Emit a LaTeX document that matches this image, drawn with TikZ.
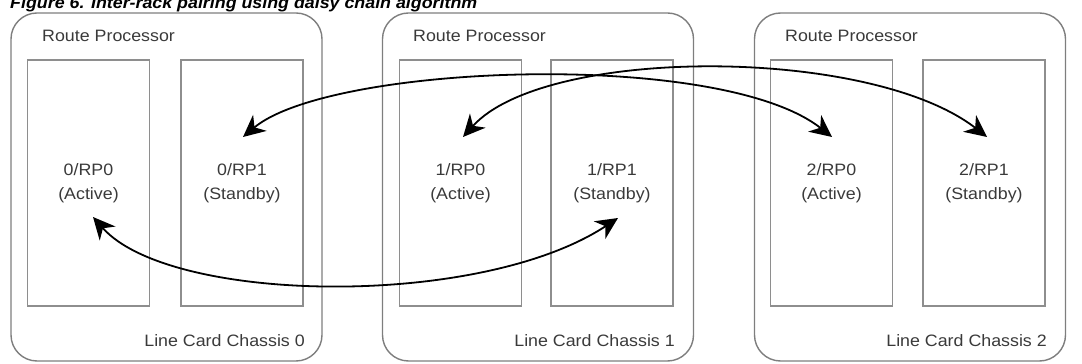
\documentclass[tikz,border=0pt]{standalone}
\usepackage{fontspec}
\setmainfont{Liberation Sans}
\newfontfamily\lbl[FakeStretch=1.08]{Liberation Sans}
\usetikzlibrary{arrows.meta,calc}
\definecolor{txt}{HTML}{3A3A3A}
\definecolor{frame}{HTML}{7E7E7E}
\definecolor{inner}{HTML}{8E8E8E}
\begin{document}
\begin{tikzpicture}[x=1pt,y=1pt,
  chassis/.style={draw=frame, line width=1.4pt, rounded corners=26pt, minimum width=311pt, minimum height=348pt, inner sep=0pt},
  rpbox/.style={draw=inner, line width=1.4pt, minimum width=122pt, minimum height=246pt, inner sep=0pt, align=center, text=txt, font=\lbl\fontsize{16.5}{24}\selectfont},
  lab/.style={text=txt, font=\lbl\fontsize{16.5}{19}\selectfont, inner sep=0pt},
  link/.style={line width=1.8pt, black, {Stealth[length=22pt,width=21pt,inset=7pt]}-{Stealth[length=22pt,width=21pt,inset=7pt]}}
]
\useasboundingbox (0,0) rectangle (1082,364);
\clip (0,0) rectangle (1082,364);

% title (cut off at the top, as in the reference)
\node[anchor=base west, inner sep=0pt, text=black, font=\lbl\fontsize{16.5}{19}\selectfont\bfseries\itshape] (title) at (10,355) {Figure 6. Inter-rack pairing using daisy chain algorithm};

% chassis
\node[chassis] (ch0) at (166.5,177) {};
\node[chassis] (ch1) at (538,177) {};
\node[chassis] (ch2) at (910,177) {};

% route processor labels
\node[lab, anchor=base west] (rpl0) at (42,322) {Route Processor};
\node[lab, anchor=base west] (rpl1) at (413,322) {Route Processor};
\node[lab, anchor=base west] (rpl2) at (785,322) {Route Processor};

% chassis labels
\node[lab, anchor=base east] (lc0) at (305,17) {Line Card Chassis 0};
\node[lab, anchor=base east] (lc1) at (675,17) {Line Card Chassis 1};
\node[lab, anchor=base east] (lc2) at (1047,17) {Line Card Chassis 2};

% RP boxes
\node[rpbox] (rp00) at (88.5,181) {0/RP0\\(Active)};
\node[rpbox] (rp01) at (242,181) {0/RP1\\(Standby)};
\node[rpbox] (rp10) at (460.5,181) {1/RP0\\(Active)};
\node[rpbox] (rp11) at (612,181) {1/RP1\\(Standby)};
\node[rpbox] (rp20) at (831.5,181) {2/RP0\\(Active)};
\node[rpbox] (rp21) at (984,181) {2/RP1\\(Standby)};

% arrow ends
\coordinate (t00) at ($(rp00)+(4.5,-34)$);
\coordinate (t11) at ($(rp11)+(6,-35)$);
\coordinate (t01) at ($(rp01)+(1,46)$);
\coordinate (t20) at ($(rp20)+(0.5,46)$);
\coordinate (t10) at ($(rp10)+(2.5,46)$);
\coordinate (t21) at ($(rp21)+(3,46)$);

% daisy chain links
\draw[link] (t01) .. controls +(87,73) and +(-112,88) .. (t20);
\draw[link] (t10) .. controls +(82,91) and +(-117,91) .. (t21);
\draw[link] (t00) .. controls +(77,-87) and +(-138,-91) .. (t11);
\end{tikzpicture}
\end{document}
